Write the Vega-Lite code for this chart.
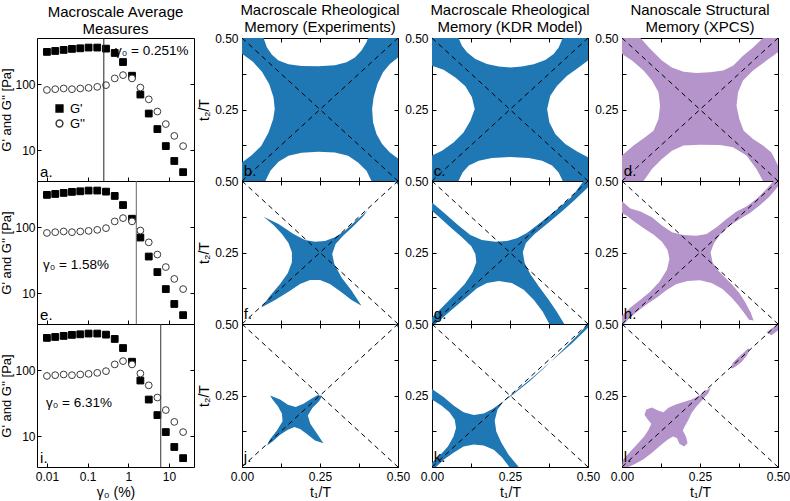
{
"$schema":"https://vega.github.io/schema/vega-lite/v6.json",
"padding":{"left":0,"top":2,"right":0,"bottom":0},
"background":"white",
"config":{
 "font":"Liberation Sans",
 "view":{"stroke":"black","strokeWidth":1},
 "axis":{"domain":false,"grid":false,"ticks":true,"tickColor":"black","tickSize":-4,"tickWidth":1,"labelFontSize":12,"labelColor":"black","labelPadding":8,"titleFontSize":14,"titleFontWeight":"normal","titleColor":"black","titlePadding":3,"labelFlush":false,"labelOverlap":false},
 "title":{"fontSize":15,"fontWeight":"normal","color":"black","lineHeight":17,"anchor":"middle","offset":-3},
 "legend":{"labelFontSize":13,"labelColor":"black"}
},
"datasets":{
 "rheo":[
  {"g":0.01,"m":308,"s":"G'"},{"g":0.016,"m":318,"s":"G'"},{"g":0.0258,"m":330,"s":"G'"},{"g":0.0413,"m":342,"s":"G'"},{"g":0.0661,"m":349,"s":"G'"},{"g":0.106,"m":358,"s":"G'"},{"g":0.173,"m":358,"s":"G'"},{"g":0.284,"m":345,"s":"G'"},{"g":0.465,"m":297,"s":"G'"},{"g":0.745,"m":216,"s":"G'"},{"g":1.24,"m":134,"s":"G'"},{"g":1.99,"m":69.5,"s":"G'"},{"g":3.2,"m":35.8,"s":"G'"},{"g":5.21,"m":20.8,"s":"G'"},{"g":8.4,"m":11.5,"s":"G'"},{"g":13.6,"m":6.84,"s":"G'"},{"g":22.4,"m":4.63,"s":"G'"},
  {"g":0.01,"m":81.6,"s":"G''"},{"g":0.016,"m":83.8,"s":"G''"},{"g":0.0258,"m":85.9,"s":"G''"},{"g":0.0413,"m":83.8,"s":"G''"},{"g":0.0661,"m":85.9,"s":"G''"},{"g":0.106,"m":87.7,"s":"G''"},{"g":0.173,"m":90.9,"s":"G''"},{"g":0.284,"m":96.5,"s":"G''"},{"g":0.465,"m":122,"s":"G''"},{"g":0.745,"m":137,"s":"G''"},{"g":1.24,"m":122,"s":"G''"},{"g":1.99,"m":88.9,"s":"G''"},{"g":3.2,"m":58.8,"s":"G''"},{"g":5.21,"m":38.4,"s":"G''"},{"g":8.4,"m":24.8,"s":"G''"},{"g":13.6,"m":16.4,"s":"G''"},{"g":22.4,"m":11.5,"s":"G''"}
 ],
 "diag":[{"d":1,"x":0,"y":0},{"d":1,"x":0.5,"y":0.5},{"d":2,"x":0,"y":0.5},{"d":2,"x":0.5,"y":0}],
 "pb":[{"x":0,"y":0.5},{"x":0.069,"y":0.5},{"x":0.08,"y":0.467},{"x":0.096,"y":0.441},{"x":0.117,"y":0.421},{"x":0.149,"y":0.408},{"x":0.191,"y":0.402},{"x":0.245,"y":0.401},{"x":0.298,"y":0.405},{"x":0.335,"y":0.415},{"x":0.362,"y":0.432},{"x":0.383,"y":0.456},{"x":0.399,"y":0.485},{"x":0.404,"y":0.5},{"x":0.5,"y":0.5},{"x":0.5,"y":0.432},{"x":0.474,"y":0.409},{"x":0.452,"y":0.38},{"x":0.434,"y":0.339},{"x":0.422,"y":0.293},{"x":0.417,"y":0.252},{"x":0.42,"y":0.205},{"x":0.431,"y":0.164},{"x":0.449,"y":0.129},{"x":0.474,"y":0.1},{"x":0.5,"y":0.079},{"x":0.5,"y":0},{"x":0.415,"y":0},{"x":0.399,"y":0.036},{"x":0.372,"y":0.065},{"x":0.34,"y":0.088},{"x":0.298,"y":0.1},{"x":0.245,"y":0.102},{"x":0.191,"y":0.099},{"x":0.149,"y":0.088},{"x":0.117,"y":0.067},{"x":0.091,"y":0.036},{"x":0.075,"y":0},{"x":0,"y":0},{"x":0,"y":0.065},{"x":0.032,"y":0.091},{"x":0.062,"y":0.123},{"x":0.085,"y":0.17},{"x":0.1,"y":0.217},{"x":0.105,"y":0.252},{"x":0.101,"y":0.293},{"x":0.087,"y":0.339},{"x":0.064,"y":0.382},{"x":0.035,"y":0.417},{"x":0,"y":0.445}],
 "pc":[{"x":0,"y":0.5},{"x":0.085,"y":0.5},{"x":0.096,"y":0.473},{"x":0.112,"y":0.45},{"x":0.139,"y":0.427},{"x":0.176,"y":0.409},{"x":0.214,"y":0.4},{"x":0.251,"y":0.397},{"x":0.288,"y":0.4},{"x":0.326,"y":0.408},{"x":0.363,"y":0.423},{"x":0.39,"y":0.444},{"x":0.406,"y":0.467},{"x":0.419,"y":0.5},{"x":0.5,"y":0.5},{"x":0.5,"y":0.421},{"x":0.47,"y":0.397},{"x":0.433,"y":0.368},{"x":0.401,"y":0.333},{"x":0.379,"y":0.298},{"x":0.369,"y":0.252},{"x":0.376,"y":0.205},{"x":0.395,"y":0.164},{"x":0.427,"y":0.129},{"x":0.465,"y":0.103},{"x":0.5,"y":0.083},{"x":0.5,"y":0},{"x":0.419,"y":0},{"x":0.406,"y":0.03},{"x":0.385,"y":0.054},{"x":0.353,"y":0.071},{"x":0.31,"y":0.08},{"x":0.251,"y":0.084},{"x":0.192,"y":0.08},{"x":0.15,"y":0.071},{"x":0.118,"y":0.054},{"x":0.098,"y":0.03},{"x":0.085,"y":0},{"x":0,"y":0},{"x":0,"y":0.089},{"x":0.032,"y":0.106},{"x":0.069,"y":0.135},{"x":0.101,"y":0.17},{"x":0.123,"y":0.211},{"x":0.137,"y":0.252},{"x":0.128,"y":0.293},{"x":0.107,"y":0.331},{"x":0.075,"y":0.362},{"x":0.037,"y":0.389},{"x":0,"y":0.403}],
 "pd":[{"x":0,"y":0.5},{"x":0.059,"y":0.5},{"x":0.09,"y":0.462},{"x":0.128,"y":0.421},{"x":0.16,"y":0.397},{"x":0.197,"y":0.382},{"x":0.239,"y":0.378},{"x":0.282,"y":0.38},{"x":0.324,"y":0.386},{"x":0.356,"y":0.403},{"x":0.388,"y":0.438},{"x":0.42,"y":0.467},{"x":0.452,"y":0.5},{"x":0.5,"y":0.5},{"x":0.5,"y":0.45},{"x":0.463,"y":0.421},{"x":0.42,"y":0.386},{"x":0.388,"y":0.351},{"x":0.372,"y":0.31},{"x":0.367,"y":0.263},{"x":0.376,"y":0.217},{"x":0.39,"y":0.176},{"x":0.42,"y":0.147},{"x":0.452,"y":0.124},{"x":0.479,"y":0.1},{"x":0.5,"y":0.054},{"x":0.5,"y":0},{"x":0.452,"y":0},{"x":0.431,"y":0.042},{"x":0.399,"y":0.089},{"x":0.356,"y":0.118},{"x":0.314,"y":0.126},{"x":0.25,"y":0.127},{"x":0.197,"y":0.124},{"x":0.16,"y":0.106},{"x":0.128,"y":0.077},{"x":0.096,"y":0.042},{"x":0.069,"y":0},{"x":0,"y":0},{"x":0,"y":0.089},{"x":0.037,"y":0.124},{"x":0.074,"y":0.153},{"x":0.101,"y":0.176},{"x":0.117,"y":0.217},{"x":0.122,"y":0.263},{"x":0.117,"y":0.31},{"x":0.096,"y":0.351},{"x":0.069,"y":0.386},{"x":0.032,"y":0.421},{"x":0,"y":0.444}],
 "pf":[{"p":1,"x":0.069,"y":0.375},{"p":1,"x":0.117,"y":0.35},{"p":1,"x":0.165,"y":0.315},{"p":1,"x":0.202,"y":0.294},{"p":1,"x":0.234,"y":0.288},{"p":1,"x":0.266,"y":0.29},{"p":1,"x":0.298,"y":0.303},{"p":1,"x":0.33,"y":0.326},{"p":1,"x":0.362,"y":0.358},{"p":1,"x":0.402,"y":0.396},{"p":1,"x":0.388,"y":0.376},{"p":1,"x":0.356,"y":0.341},{"p":1,"x":0.324,"y":0.309},{"p":1,"x":0.3,"y":0.28},{"p":1,"x":0.289,"y":0.245},{"p":1,"x":0.296,"y":0.21},{"p":1,"x":0.319,"y":0.163},{"p":1,"x":0.351,"y":0.117},{"p":1,"x":0.383,"y":0.064},{"p":1,"x":0.351,"y":0.084},{"p":1,"x":0.319,"y":0.111},{"p":1,"x":0.282,"y":0.14},{"p":1,"x":0.25,"y":0.154},{"p":1,"x":0.218,"y":0.154},{"p":1,"x":0.186,"y":0.14},{"p":1,"x":0.149,"y":0.113},{"p":1,"x":0.106,"y":0.084},{"p":1,"x":0.062,"y":0.058},{"p":1,"x":0.09,"y":0.099},{"p":1,"x":0.122,"y":0.14},{"p":1,"x":0.147,"y":0.178},{"p":1,"x":0.16,"y":0.216},{"p":1,"x":0.16,"y":0.251},{"p":1,"x":0.149,"y":0.283},{"p":1,"x":0.128,"y":0.315},{"p":1,"x":0.101,"y":0.346},{"p":2,"x":0.488,"y":0.5},{"p":2,"x":0.5,"y":0.5},{"p":2,"x":0.5,"y":0.487}],
 "pg":[{"x":0,"y":0.425},{"x":0.043,"y":0.385},{"x":0.085,"y":0.344},{"x":0.123,"y":0.311},{"x":0.16,"y":0.294},{"x":0.203,"y":0.288},{"x":0.24,"y":0.29},{"x":0.272,"y":0.3},{"x":0.304,"y":0.318},{"x":0.342,"y":0.35},{"x":0.395,"y":0.396},{"x":0.449,"y":0.446},{"x":0.486,"y":0.5},{"x":0.5,"y":0.5},{"x":0.5,"y":0.478},{"x":0.459,"y":0.435},{"x":0.417,"y":0.394},{"x":0.374,"y":0.355},{"x":0.329,"y":0.315},{"x":0.301,"y":0.283},{"x":0.291,"y":0.251},{"x":0.297,"y":0.213},{"x":0.315,"y":0.175},{"x":0.342,"y":0.132},{"x":0.374,"y":0.085},{"x":0.401,"y":0.041},{"x":0.424,"y":0},{"x":0.376,"y":0},{"x":0.355,"y":0.043},{"x":0.326,"y":0.085},{"x":0.294,"y":0.12},{"x":0.256,"y":0.143},{"x":0.214,"y":0.15},{"x":0.176,"y":0.143},{"x":0.144,"y":0.125},{"x":0.107,"y":0.09},{"x":0.069,"y":0.055},{"x":0.032,"y":0.02},{"x":0.011,"y":0},{"x":0,"y":0},{"x":0,"y":0.023},{"x":0.032,"y":0.058},{"x":0.069,"y":0.099},{"x":0.105,"y":0.14},{"x":0.13,"y":0.181},{"x":0.142,"y":0.216},{"x":0.139,"y":0.245},{"x":0.126,"y":0.272},{"x":0.096,"y":0.303},{"x":0.059,"y":0.338},{"x":0.021,"y":0.376},{"x":0,"y":0.396}],
 "ph":[{"x":0,"y":0.429},{"x":0.027,"y":0.404},{"x":0.059,"y":0.393},{"x":0.096,"y":0.373},{"x":0.128,"y":0.344},{"x":0.16,"y":0.321},{"x":0.197,"y":0.311},{"x":0.239,"y":0.309},{"x":0.271,"y":0.315},{"x":0.303,"y":0.338},{"x":0.335,"y":0.367},{"x":0.367,"y":0.393},{"x":0.399,"y":0.411},{"x":0.431,"y":0.437},{"x":0.463,"y":0.472},{"x":0.486,"y":0.5},{"x":0.5,"y":0.5},{"x":0.5,"y":0.481},{"x":0.473,"y":0.446},{"x":0.441,"y":0.414},{"x":0.41,"y":0.388},{"x":0.378,"y":0.367},{"x":0.346,"y":0.344},{"x":0.316,"y":0.315},{"x":0.295,"y":0.283},{"x":0.284,"y":0.251},{"x":0.29,"y":0.216},{"x":0.309,"y":0.186},{"x":0.33,"y":0.163},{"x":0.354,"y":0.136},{"x":0.376,"y":0.108},{"x":0.394,"y":0.078},{"x":0.412,"y":0.041},{"x":0.422,"y":0.012},{"x":0.407,"y":0.015},{"x":0.39,"y":0.041},{"x":0.372,"y":0.066},{"x":0.351,"y":0.093},{"x":0.322,"y":0.122},{"x":0.287,"y":0.143},{"x":0.25,"y":0.153},{"x":0.21,"y":0.15},{"x":0.173,"y":0.139},{"x":0.141,"y":0.117},{"x":0.112,"y":0.093},{"x":0.082,"y":0.071},{"x":0.053,"y":0.047},{"x":0.024,"y":0.021},{"x":0.007,"y":0},{"x":0,"y":0},{"x":0,"y":0.029},{"x":0.027,"y":0.058},{"x":0.059,"y":0.085},{"x":0.09,"y":0.113},{"x":0.12,"y":0.148},{"x":0.144,"y":0.19},{"x":0.152,"y":0.227},{"x":0.146,"y":0.259},{"x":0.128,"y":0.288},{"x":0.103,"y":0.311},{"x":0.071,"y":0.334},{"x":0.039,"y":0.358},{"x":0.014,"y":0.379},{"x":0,"y":0.388}],
 "pj":[{"p":1,"x":0.09,"y":0.25},{"p":1,"x":0.122,"y":0.236},{"p":1,"x":0.147,"y":0.218},{"p":1,"x":0.172,"y":0.21},{"p":1,"x":0.197,"y":0.221},{"p":1,"x":0.221,"y":0.238},{"p":1,"x":0.243,"y":0.252},{"p":1,"x":0.257,"y":0.248},{"p":1,"x":0.247,"y":0.23},{"p":1,"x":0.226,"y":0.207},{"p":1,"x":0.211,"y":0.18},{"p":1,"x":0.219,"y":0.151},{"p":1,"x":0.239,"y":0.119},{"p":1,"x":0.261,"y":0.083},{"p":1,"x":0.234,"y":0.093},{"p":1,"x":0.207,"y":0.116},{"p":1,"x":0.186,"y":0.133},{"p":1,"x":0.168,"y":0.14},{"p":1,"x":0.147,"y":0.13},{"p":1,"x":0.122,"y":0.113},{"p":1,"x":0.098,"y":0.089},{"p":1,"x":0.08,"y":0.075},{"p":1,"x":0.09,"y":0.097},{"p":1,"x":0.112,"y":0.128},{"p":1,"x":0.13,"y":0.16},{"p":1,"x":0.128,"y":0.187},{"p":1,"x":0.115,"y":0.212},{"p":1,"x":0.098,"y":0.236},{"p":2,"x":0.49,"y":0.5},{"p":2,"x":0.5,"y":0.5},{"p":2,"x":0.5,"y":0.488}],
 "pk":[{"x":0,"y":0.273},{"x":0.037,"y":0.245},{"x":0.069,"y":0.215},{"x":0.101,"y":0.191},{"x":0.134,"y":0.182},{"x":0.166,"y":0.187},{"x":0.194,"y":0.203},{"x":0.226,"y":0.227},{"x":0.262,"y":0.255},{"x":0.31,"y":0.297},{"x":0.363,"y":0.35},{"x":0.427,"y":0.418},{"x":0.481,"y":0.477},{"x":0.497,"y":0.5},{"x":0.5,"y":0.5},{"x":0.5,"y":0.487},{"x":0.449,"y":0.433},{"x":0.385,"y":0.372},{"x":0.321,"y":0.312},{"x":0.269,"y":0.266},{"x":0.233,"y":0.234},{"x":0.21,"y":0.201},{"x":0.201,"y":0.163},{"x":0.206,"y":0.124},{"x":0.222,"y":0.086},{"x":0.246,"y":0.042},{"x":0.278,"y":0},{"x":0.248,"y":0},{"x":0.224,"y":0.034},{"x":0.198,"y":0.06},{"x":0.166,"y":0.075},{"x":0.134,"y":0.079},{"x":0.101,"y":0.072},{"x":0.069,"y":0.05},{"x":0.037,"y":0.025},{"x":0.013,"y":0},{"x":0,"y":0},{"x":0,"y":0.015},{"x":0.024,"y":0.039},{"x":0.051,"y":0.072},{"x":0.069,"y":0.107},{"x":0.077,"y":0.136},{"x":0.073,"y":0.165},{"x":0.056,"y":0.191},{"x":0.03,"y":0.215},{"x":0,"y":0.236}],
 "pl":[{"p":1,"x":0,"y":0},{"p":1,"x":0.003,"y":0.025},{"p":1,"x":0.027,"y":0.054},{"p":1,"x":0.05,"y":0.081},{"p":1,"x":0.071,"y":0.107},{"p":1,"x":0.085,"y":0.13},{"p":1,"x":0.094,"y":0.151},{"p":1,"x":0.083,"y":0.165},{"p":1,"x":0.072,"y":0.183},{"p":1,"x":0.078,"y":0.201},{"p":1,"x":0.096,"y":0.208},{"p":1,"x":0.117,"y":0.197},{"p":1,"x":0.133,"y":0.191},{"p":1,"x":0.149,"y":0.207},{"p":1,"x":0.17,"y":0.218},{"p":1,"x":0.197,"y":0.227},{"p":1,"x":0.223,"y":0.236},{"p":1,"x":0.245,"y":0.248},{"p":1,"x":0.266,"y":0.265},{"p":1,"x":0.284,"y":0.277},{"p":1,"x":0.277,"y":0.259},{"p":1,"x":0.259,"y":0.236},{"p":1,"x":0.239,"y":0.212},{"p":1,"x":0.223,"y":0.189},{"p":1,"x":0.213,"y":0.165},{"p":1,"x":0.202,"y":0.144},{"p":1,"x":0.195,"y":0.128},{"p":1,"x":0.205,"y":0.107},{"p":1,"x":0.21,"y":0.083},{"p":1,"x":0.199,"y":0.072},{"p":1,"x":0.184,"y":0.081},{"p":1,"x":0.176,"y":0.101},{"p":1,"x":0.163,"y":0.107},{"p":1,"x":0.146,"y":0.095},{"p":1,"x":0.122,"y":0.074},{"p":1,"x":0.096,"y":0.05},{"p":1,"x":0.069,"y":0.027},{"p":1,"x":0.043,"y":0.011},{"p":1,"x":0.021,"y":0},
  {"p":2,"x":0.348,"y":0.347},{"p":2,"x":0.356,"y":0.365},{"p":2,"x":0.372,"y":0.383},{"p":2,"x":0.39,"y":0.4},{"p":2,"x":0.404,"y":0.414},{"p":2,"x":0.41,"y":0.41},{"p":2,"x":0.399,"y":0.388},{"p":2,"x":0.383,"y":0.367},{"p":2,"x":0.367,"y":0.353},{"p":2,"x":0.354,"y":0.344},
  {"p":3,"x":0.463,"y":0.471},{"p":3,"x":0.484,"y":0.488},{"p":3,"x":0.5,"y":0.5},{"p":3,"x":0.5,"y":0.477},{"p":3,"x":0.479,"y":0.461}]
},
"spacing":-7,
"resolve":{"scale":{"shape":"independent","fill":"independent","stroke":"independent"}},
"hconcat":[
 {"vconcat":[
  {"width":157,"height":143,"title":{"text":["Macroscale Average","Measures"],"offset":1},
   "layer":[
    {"data":{"name":"rheo"},"mark":{"type":"point","size":46,"strokeWidth":1,"opacity":1},
     "encoding":{
      "x":{"field":"g","type":"quantitative","scale":{"type":"log","domain":[0.0057,41.5],"nice":false},"axis":{"values":[0.01,0.1,1,10],"labels":false,"title":null}},
      "y":{"field":"m","type":"quantitative","scale":{"type":"log","domain":[3.4,500],"nice":false},"axis":{"values":[10,100],"format":"~g","title":"G' and G'' [Pa]","titleFontSize":13,"titlePadding":1,"labelPadding":6}},
      "shape":{"field":"s","type":"nominal","scale":{"domain":["G'","G''"],"range":["square","circle"]},"legend":{"orient":"none","legendX":16,"legendY":64,"title":null,"symbolSize":46,"labelFontSize":13,"rowPadding":1}},
      "fill":{"field":"s","type":"nominal","scale":{"domain":["G'","G''"],"range":["black","white"]},"legend":{"orient":"none","legendX":16,"legendY":64,"title":null,"symbolSize":46,"labelFontSize":13,"rowPadding":1}},
      "stroke":{"field":"s","type":"nominal","scale":{"domain":["G'","G''"],"range":["black","#3a3a3a"]},"legend":{"orient":"none","legendX":16,"legendY":64,"title":null,"symbolSize":46,"labelFontSize":13,"rowPadding":1}}}},
    {"data":{"values":[{"g":0.251}]},"mark":{"type":"rule","color":"#222","strokeWidth":1},
     "encoding":{"x":{"field":"g","type":"quantitative","scale":{"type":"log","domain":[0.0057,41.5],"nice":false},"axis":null}}},
    {"data":{"values":[{"g":0.47,"m":322,"t":"γ₀ = 0.251%"}]},"mark":{"type":"text","align":"left","baseline":"middle","fontSize":13.5},
     "encoding":{"x":{"field":"g","type":"quantitative","scale":{"type":"log","domain":[0.0057,41.5],"nice":false},"axis":null},"y":{"field":"m","type":"quantitative","scale":{"type":"log","domain":[3.4,500],"nice":false},"axis":null},"text":{"field":"t"}}},
    {"data":{"values":[{"g":0.0068,"m":3.95,"t":"a."}]},"mark":{"type":"text","align":"left","baseline":"alphabetic","fontSize":15},
     "encoding":{"x":{"field":"g","type":"quantitative","scale":{"type":"log","domain":[0.0057,41.5],"nice":false},"axis":null},"y":{"field":"m","type":"quantitative","scale":{"type":"log","domain":[3.4,500],"nice":false},"axis":{"orient":"right","values":[10,100],"labels":false,"title":"\u00a0","titleFontSize":6,"titlePadding":3}},"text":{"field":"t"}}}
   ],"resolve":{"axis":{"x":"independent","y":"independent"}}},
  {"width":157,"height":143,
   "layer":[
    {"data":{"name":"rheo"},"mark":{"type":"point","size":46,"strokeWidth":1,"opacity":1},
     "encoding":{
      "x":{"field":"g","type":"quantitative","scale":{"type":"log","domain":[0.0057,41.5],"nice":false},"axis":{"values":[0.01,0.1,1,10],"labels":false,"title":null}},
      "y":{"field":"m","type":"quantitative","scale":{"type":"log","domain":[3.4,500],"nice":false},"axis":{"values":[10,100],"format":"~g","title":"G' and G'' [Pa]","titleFontSize":13,"titlePadding":1,"labelPadding":6}},
      "shape":{"field":"s","type":"nominal","scale":{"domain":["G'","G''"],"range":["square","circle"]},"legend":null},
      "fill":{"field":"s","type":"nominal","scale":{"domain":["G'","G''"],"range":["black","white"]},"legend":null},
      "stroke":{"field":"s","type":"nominal","scale":{"domain":["G'","G''"],"range":["black","#3a3a3a"]},"legend":null}}},
    {"data":{"values":[{"g":1.58}]},"mark":{"type":"rule","color":"#666","strokeWidth":1},
     "encoding":{"x":{"field":"g","type":"quantitative","scale":{"type":"log","domain":[0.0057,41.5],"nice":false},"axis":null}}},
    {"data":{"values":[{"g":0.008,"m":27,"t":"γ₀ = 1.58%"}]},"mark":{"type":"text","align":"left","baseline":"middle","fontSize":13.5},
     "encoding":{"x":{"field":"g","type":"quantitative","scale":{"type":"log","domain":[0.0057,41.5],"nice":false},"axis":null},"y":{"field":"m","type":"quantitative","scale":{"type":"log","domain":[3.4,500],"nice":false},"axis":null},"text":{"field":"t"}}},
    {"data":{"values":[{"g":0.0068,"m":3.95,"t":"e."}]},"mark":{"type":"text","align":"left","baseline":"alphabetic","fontSize":15},
     "encoding":{"x":{"field":"g","type":"quantitative","scale":{"type":"log","domain":[0.0057,41.5],"nice":false},"axis":null},"y":{"field":"m","type":"quantitative","scale":{"type":"log","domain":[3.4,500],"nice":false},"axis":{"orient":"right","values":[10,100],"labels":false,"title":"\u00a0","titleFontSize":6,"titlePadding":3}},"text":{"field":"t"}}}
   ],"resolve":{"axis":{"x":"independent","y":"independent"}}},
  {"width":157,"height":143,
   "layer":[
    {"data":{"name":"rheo"},"mark":{"type":"point","size":46,"strokeWidth":1,"opacity":1},
     "encoding":{
      "x":{"field":"g","type":"quantitative","scale":{"type":"log","domain":[0.0057,41.5],"nice":false},"axis":{"values":[0.01,0.1,1,10],"format":"~g","title":"γ₀ (%)"}},
      "y":{"field":"m","type":"quantitative","scale":{"type":"log","domain":[3.4,500],"nice":false},"axis":{"values":[10,100],"format":"~g","title":"G' and G'' [Pa]","titleFontSize":13,"titlePadding":1,"labelPadding":6}},
      "shape":{"field":"s","type":"nominal","scale":{"domain":["G'","G''"],"range":["square","circle"]},"legend":null},
      "fill":{"field":"s","type":"nominal","scale":{"domain":["G'","G''"],"range":["black","white"]},"legend":null},
      "stroke":{"field":"s","type":"nominal","scale":{"domain":["G'","G''"],"range":["black","#3a3a3a"]},"legend":null}}},
    {"data":{"values":[{"g":6.31}]},"mark":{"type":"rule","color":"#333","strokeWidth":1},
     "encoding":{"x":{"field":"g","type":"quantitative","scale":{"type":"log","domain":[0.0057,41.5],"nice":false},"axis":null}}},
    {"data":{"values":[{"g":0.0095,"m":32,"t":"γ₀ = 6.31%"}]},"mark":{"type":"text","align":"left","baseline":"middle","fontSize":13.5},
     "encoding":{"x":{"field":"g","type":"quantitative","scale":{"type":"log","domain":[0.0057,41.5],"nice":false},"axis":null},"y":{"field":"m","type":"quantitative","scale":{"type":"log","domain":[3.4,500],"nice":false},"axis":null},"text":{"field":"t"}}},
    {"data":{"values":[{"g":0.0068,"m":3.95,"t":"i."}]},"mark":{"type":"text","align":"left","baseline":"alphabetic","fontSize":15},
     "encoding":{"x":{"field":"g","type":"quantitative","scale":{"type":"log","domain":[0.0057,41.5],"nice":false},"axis":null},"y":{"field":"m","type":"quantitative","scale":{"type":"log","domain":[3.4,500],"nice":false},"axis":{"orient":"right","values":[10,100],"labels":false,"title":"\u00a0","titleFontSize":6,"titlePadding":3}},"text":{"field":"t"}}}
   ],"resolve":{"axis":{"x":"independent","y":"independent"}}}
 ],"spacing":0,"bounds":"flush","resolve":{"scale":{"shape":"independent","fill":"independent","stroke":"independent"}}},
 {"vconcat":[
  {"width":156,"height":143,"title":{"text":["Macroscale Rheological","Memory (Experiments)"]},
   "layer":[
    {"data":{"name":"pb"},"mark":{"type":"line","fill":"#1f77b4","strokeWidth":0,"clip":true},
     "encoding":{"x":{"field":"x","type":"quantitative","scale":{"domain":[0,0.5],"nice":false,"zero":false},"axis":{"values":[0,0.125,0.25,0.375,0.5],"labels":false,"title":null}},
      "y":{"field":"y","type":"quantitative","scale":{"domain":[0,0.5],"nice":false,"zero":false},"axis":{"values":[0,0.125,0.25,0.375,0.5],"labelExpr":"datum.value==0.25||datum.value==0.5?format(datum.value,'.2f'):''","title":"t₂/T"}},
      "detail":{"field":"p"},"order":{"value":null}}},
    {"data":{"name":"diag"},"mark":{"type":"line","color":"black","strokeDash":[5,4],"strokeWidth":1},
     "encoding":{"x":{"field":"x","type":"quantitative","scale":{"domain":[0,0.5],"nice":false,"zero":false},"axis":{"orient":"top","values":[0,0.125,0.25,0.375,0.5],"labels":false,"title":null}},
      "y":{"field":"y","type":"quantitative","scale":{"domain":[0,0.5],"nice":false,"zero":false},"axis":{"orient":"right","values":[0,0.125,0.25,0.375,0.5],"labels":false,"title":null}},
      "detail":{"field":"d"}}},
    {"data":{"values":[{"x":0.006,"y":0.017,"t":"b."}]},"mark":{"type":"text","align":"left","baseline":"alphabetic","fontSize":15},
     "encoding":{"x":{"field":"x","type":"quantitative","scale":{"domain":[0,0.5],"nice":false,"zero":false},"axis":null},"y":{"field":"y","type":"quantitative","scale":{"domain":[0,0.5],"nice":false,"zero":false},"axis":null},"text":{"field":"t"}}}
   ],"resolve":{"axis":{"x":"independent","y":"independent"}}},
  {"width":156,"height":143,
   "layer":[
    {"data":{"name":"pf"},"mark":{"type":"line","fill":"#1f77b4","strokeWidth":0,"clip":true},
     "encoding":{"x":{"field":"x","type":"quantitative","scale":{"domain":[0,0.5],"nice":false,"zero":false},"axis":{"values":[0,0.125,0.25,0.375,0.5],"labels":false,"title":null}},
      "y":{"field":"y","type":"quantitative","scale":{"domain":[0,0.5],"nice":false,"zero":false},"axis":{"values":[0,0.125,0.25,0.375,0.5],"labelExpr":"datum.value==0.25||datum.value==0.5?format(datum.value,'.2f'):''","title":"t₂/T"}},
      "detail":{"field":"p"},"order":{"value":null}}},
    {"data":{"name":"diag"},"mark":{"type":"line","color":"black","strokeDash":[5,4],"strokeWidth":1},
     "encoding":{"x":{"field":"x","type":"quantitative","scale":{"domain":[0,0.5],"nice":false,"zero":false},"axis":{"orient":"top","values":[0,0.125,0.25,0.375,0.5],"labels":false,"title":null}},
      "y":{"field":"y","type":"quantitative","scale":{"domain":[0,0.5],"nice":false,"zero":false},"axis":{"orient":"right","values":[0,0.125,0.25,0.375,0.5],"labels":false,"title":null}},
      "detail":{"field":"d"}}},
    {"data":{"values":[{"x":0.006,"y":0.017,"t":"f."}]},"mark":{"type":"text","align":"left","baseline":"alphabetic","fontSize":15},
     "encoding":{"x":{"field":"x","type":"quantitative","scale":{"domain":[0,0.5],"nice":false,"zero":false},"axis":null},"y":{"field":"y","type":"quantitative","scale":{"domain":[0,0.5],"nice":false,"zero":false},"axis":null},"text":{"field":"t"}}}
   ],"resolve":{"axis":{"x":"independent","y":"independent"}}},
  {"width":156,"height":143,
   "layer":[
    {"data":{"name":"pj"},"mark":{"type":"line","fill":"#1f77b4","strokeWidth":0,"clip":true},
     "encoding":{"x":{"field":"x","type":"quantitative","scale":{"domain":[0,0.5],"nice":false,"zero":false},"axis":{"values":[0,0.125,0.25,0.375,0.5],"labelExpr":"datum.value==0.125||datum.value==0.375?'':format(datum.value,'.2f')","title":"t₁/T"}},
      "y":{"field":"y","type":"quantitative","scale":{"domain":[0,0.5],"nice":false,"zero":false},"axis":{"values":[0,0.125,0.25,0.375,0.5],"labelExpr":"datum.value==0.25||datum.value==0.5?format(datum.value,'.2f'):''","title":"t₂/T"}},
      "detail":{"field":"p"},"order":{"value":null}}},
    {"data":{"name":"diag"},"mark":{"type":"line","color":"black","strokeDash":[5,4],"strokeWidth":1},
     "encoding":{"x":{"field":"x","type":"quantitative","scale":{"domain":[0,0.5],"nice":false,"zero":false},"axis":{"orient":"top","values":[0,0.125,0.25,0.375,0.5],"labels":false,"title":null}},
      "y":{"field":"y","type":"quantitative","scale":{"domain":[0,0.5],"nice":false,"zero":false},"axis":{"orient":"right","values":[0,0.125,0.25,0.375,0.5],"labels":false,"title":null}},
      "detail":{"field":"d"}}},
    {"data":{"values":[{"x":0.006,"y":0.017,"t":"j."}]},"mark":{"type":"text","align":"left","baseline":"alphabetic","fontSize":15},
     "encoding":{"x":{"field":"x","type":"quantitative","scale":{"domain":[0,0.5],"nice":false,"zero":false},"axis":null},"y":{"field":"y","type":"quantitative","scale":{"domain":[0,0.5],"nice":false,"zero":false},"axis":null},"text":{"field":"t"}}}
   ],"resolve":{"axis":{"x":"independent","y":"independent"}}}
 ],"spacing":0,"bounds":"flush"},
 {"vconcat":[
  {"width":156,"height":143,"title":{"text":["Macroscale Rheological","Memory (KDR Model)"]},
   "layer":[
    {"data":{"name":"pc"},"mark":{"type":"line","fill":"#1f77b4","strokeWidth":0,"clip":true},
     "encoding":{"x":{"field":"x","type":"quantitative","scale":{"domain":[0,0.5],"nice":false,"zero":false},"axis":{"values":[0,0.125,0.25,0.375,0.5],"labels":false,"title":null}},
      "y":{"field":"y","type":"quantitative","scale":{"domain":[0,0.5],"nice":false,"zero":false},"axis":{"values":[0,0.125,0.25,0.375,0.5],"labelExpr":"datum.value==0.25||datum.value==0.5?format(datum.value,'.2f'):''","title":null}},
      "detail":{"field":"p"},"order":{"value":null}}},
    {"data":{"name":"diag"},"mark":{"type":"line","color":"black","strokeDash":[5,4],"strokeWidth":1},
     "encoding":{"x":{"field":"x","type":"quantitative","scale":{"domain":[0,0.5],"nice":false,"zero":false},"axis":{"orient":"top","values":[0,0.125,0.25,0.375,0.5],"labels":false,"title":null}},
      "y":{"field":"y","type":"quantitative","scale":{"domain":[0,0.5],"nice":false,"zero":false},"axis":{"orient":"right","values":[0,0.125,0.25,0.375,0.5],"labels":false,"title":null}},
      "detail":{"field":"d"}}},
    {"data":{"values":[{"x":0.006,"y":0.017,"t":"c."}]},"mark":{"type":"text","align":"left","baseline":"alphabetic","fontSize":15},
     "encoding":{"x":{"field":"x","type":"quantitative","scale":{"domain":[0,0.5],"nice":false,"zero":false},"axis":null},"y":{"field":"y","type":"quantitative","scale":{"domain":[0,0.5],"nice":false,"zero":false},"axis":null},"text":{"field":"t"}}}
   ],"resolve":{"axis":{"x":"independent","y":"independent"}}},
  {"width":156,"height":143,
   "layer":[
    {"data":{"name":"pg"},"mark":{"type":"line","fill":"#1f77b4","strokeWidth":0,"clip":true},
     "encoding":{"x":{"field":"x","type":"quantitative","scale":{"domain":[0,0.5],"nice":false,"zero":false},"axis":{"values":[0,0.125,0.25,0.375,0.5],"labels":false,"title":null}},
      "y":{"field":"y","type":"quantitative","scale":{"domain":[0,0.5],"nice":false,"zero":false},"axis":{"values":[0,0.125,0.25,0.375,0.5],"labelExpr":"datum.value==0.25||datum.value==0.5?format(datum.value,'.2f'):''","title":null}},
      "detail":{"field":"p"},"order":{"value":null}}},
    {"data":{"name":"diag"},"mark":{"type":"line","color":"black","strokeDash":[5,4],"strokeWidth":1},
     "encoding":{"x":{"field":"x","type":"quantitative","scale":{"domain":[0,0.5],"nice":false,"zero":false},"axis":{"orient":"top","values":[0,0.125,0.25,0.375,0.5],"labels":false,"title":null}},
      "y":{"field":"y","type":"quantitative","scale":{"domain":[0,0.5],"nice":false,"zero":false},"axis":{"orient":"right","values":[0,0.125,0.25,0.375,0.5],"labels":false,"title":null}},
      "detail":{"field":"d"}}},
    {"data":{"values":[{"x":0.006,"y":0.017,"t":"g."}]},"mark":{"type":"text","align":"left","baseline":"alphabetic","fontSize":15},
     "encoding":{"x":{"field":"x","type":"quantitative","scale":{"domain":[0,0.5],"nice":false,"zero":false},"axis":null},"y":{"field":"y","type":"quantitative","scale":{"domain":[0,0.5],"nice":false,"zero":false},"axis":null},"text":{"field":"t"}}}
   ],"resolve":{"axis":{"x":"independent","y":"independent"}}},
  {"width":156,"height":143,
   "layer":[
    {"data":{"name":"pk"},"mark":{"type":"line","fill":"#1f77b4","strokeWidth":0,"clip":true},
     "encoding":{"x":{"field":"x","type":"quantitative","scale":{"domain":[0,0.5],"nice":false,"zero":false},"axis":{"values":[0,0.125,0.25,0.375,0.5],"labelExpr":"datum.value==0.125||datum.value==0.375?'':format(datum.value,'.2f')","title":"t₁/T"}},
      "y":{"field":"y","type":"quantitative","scale":{"domain":[0,0.5],"nice":false,"zero":false},"axis":{"values":[0,0.125,0.25,0.375,0.5],"labelExpr":"datum.value==0.25||datum.value==0.5?format(datum.value,'.2f'):''","title":null}},
      "detail":{"field":"p"},"order":{"value":null}}},
    {"data":{"name":"diag"},"mark":{"type":"line","color":"black","strokeDash":[5,4],"strokeWidth":1},
     "encoding":{"x":{"field":"x","type":"quantitative","scale":{"domain":[0,0.5],"nice":false,"zero":false},"axis":{"orient":"top","values":[0,0.125,0.25,0.375,0.5],"labels":false,"title":null}},
      "y":{"field":"y","type":"quantitative","scale":{"domain":[0,0.5],"nice":false,"zero":false},"axis":{"orient":"right","values":[0,0.125,0.25,0.375,0.5],"labels":false,"title":null}},
      "detail":{"field":"d"}}},
    {"data":{"values":[{"x":0.006,"y":0.017,"t":"k."}]},"mark":{"type":"text","align":"left","baseline":"alphabetic","fontSize":15},
     "encoding":{"x":{"field":"x","type":"quantitative","scale":{"domain":[0,0.5],"nice":false,"zero":false},"axis":null},"y":{"field":"y","type":"quantitative","scale":{"domain":[0,0.5],"nice":false,"zero":false},"axis":null},"text":{"field":"t"}}}
   ],"resolve":{"axis":{"x":"independent","y":"independent"}}}
 ],"spacing":0,"bounds":"flush"},
 {"vconcat":[
  {"width":156,"height":143,"title":{"text":["Nanoscale Structural","Memory (XPCS)"]},
   "layer":[
    {"data":{"name":"pd"},"mark":{"type":"line","fill":"#b594cc","strokeWidth":0,"clip":true},
     "encoding":{"x":{"field":"x","type":"quantitative","scale":{"domain":[0,0.5],"nice":false,"zero":false},"axis":{"values":[0,0.125,0.25,0.375,0.5],"labels":false,"title":null}},
      "y":{"field":"y","type":"quantitative","scale":{"domain":[0,0.5],"nice":false,"zero":false},"axis":{"values":[0,0.125,0.25,0.375,0.5],"labelExpr":"datum.value==0.25||datum.value==0.5?format(datum.value,'.2f'):''","title":null}},
      "detail":{"field":"p"},"order":{"value":null}}},
    {"data":{"name":"diag"},"mark":{"type":"line","color":"black","strokeDash":[5,4],"strokeWidth":1},
     "encoding":{"x":{"field":"x","type":"quantitative","scale":{"domain":[0,0.5],"nice":false,"zero":false},"axis":{"orient":"top","values":[0,0.125,0.25,0.375,0.5],"labels":false,"title":null}},
      "y":{"field":"y","type":"quantitative","scale":{"domain":[0,0.5],"nice":false,"zero":false},"axis":{"orient":"right","values":[0,0.125,0.25,0.375,0.5],"labels":false,"title":null}},
      "detail":{"field":"d"}}},
    {"data":{"values":[{"x":0.006,"y":0.017,"t":"d."}]},"mark":{"type":"text","align":"left","baseline":"alphabetic","fontSize":15},
     "encoding":{"x":{"field":"x","type":"quantitative","scale":{"domain":[0,0.5],"nice":false,"zero":false},"axis":null},"y":{"field":"y","type":"quantitative","scale":{"domain":[0,0.5],"nice":false,"zero":false},"axis":null},"text":{"field":"t"}}}
   ],"resolve":{"axis":{"x":"independent","y":"independent"}}},
  {"width":156,"height":143,
   "layer":[
    {"data":{"name":"ph"},"mark":{"type":"line","fill":"#b594cc","strokeWidth":0,"clip":true},
     "encoding":{"x":{"field":"x","type":"quantitative","scale":{"domain":[0,0.5],"nice":false,"zero":false},"axis":{"values":[0,0.125,0.25,0.375,0.5],"labels":false,"title":null}},
      "y":{"field":"y","type":"quantitative","scale":{"domain":[0,0.5],"nice":false,"zero":false},"axis":{"values":[0,0.125,0.25,0.375,0.5],"labelExpr":"datum.value==0.25||datum.value==0.5?format(datum.value,'.2f'):''","title":null}},
      "detail":{"field":"p"},"order":{"value":null}}},
    {"data":{"name":"diag"},"mark":{"type":"line","color":"black","strokeDash":[5,4],"strokeWidth":1},
     "encoding":{"x":{"field":"x","type":"quantitative","scale":{"domain":[0,0.5],"nice":false,"zero":false},"axis":{"orient":"top","values":[0,0.125,0.25,0.375,0.5],"labels":false,"title":null}},
      "y":{"field":"y","type":"quantitative","scale":{"domain":[0,0.5],"nice":false,"zero":false},"axis":{"orient":"right","values":[0,0.125,0.25,0.375,0.5],"labels":false,"title":null}},
      "detail":{"field":"d"}}},
    {"data":{"values":[{"x":0.006,"y":0.017,"t":"h."}]},"mark":{"type":"text","align":"left","baseline":"alphabetic","fontSize":15},
     "encoding":{"x":{"field":"x","type":"quantitative","scale":{"domain":[0,0.5],"nice":false,"zero":false},"axis":null},"y":{"field":"y","type":"quantitative","scale":{"domain":[0,0.5],"nice":false,"zero":false},"axis":null},"text":{"field":"t"}}}
   ],"resolve":{"axis":{"x":"independent","y":"independent"}}},
  {"width":156,"height":143,
   "layer":[
    {"data":{"name":"pl"},"mark":{"type":"line","fill":"#b594cc","strokeWidth":0,"clip":true},
     "encoding":{"x":{"field":"x","type":"quantitative","scale":{"domain":[0,0.5],"nice":false,"zero":false},"axis":{"values":[0,0.125,0.25,0.375,0.5],"labelExpr":"datum.value==0.125||datum.value==0.375?'':format(datum.value,'.2f')","title":"t₁/T"}},
      "y":{"field":"y","type":"quantitative","scale":{"domain":[0,0.5],"nice":false,"zero":false},"axis":{"values":[0,0.125,0.25,0.375,0.5],"labelExpr":"datum.value==0.25||datum.value==0.5?format(datum.value,'.2f'):''","title":null}},
      "detail":{"field":"p"},"order":{"value":null}}},
    {"data":{"name":"diag"},"mark":{"type":"line","color":"black","strokeDash":[5,4],"strokeWidth":1},
     "encoding":{"x":{"field":"x","type":"quantitative","scale":{"domain":[0,0.5],"nice":false,"zero":false},"axis":{"orient":"top","values":[0,0.125,0.25,0.375,0.5],"labels":false,"title":null}},
      "y":{"field":"y","type":"quantitative","scale":{"domain":[0,0.5],"nice":false,"zero":false},"axis":{"orient":"right","values":[0,0.125,0.25,0.375,0.5],"labels":false,"title":null}},
      "detail":{"field":"d"}}},
    {"data":{"values":[{"x":0.006,"y":0.017,"t":"l."}]},"mark":{"type":"text","align":"left","baseline":"alphabetic","fontSize":15},
     "encoding":{"x":{"field":"x","type":"quantitative","scale":{"domain":[0,0.5],"nice":false,"zero":false},"axis":null},"y":{"field":"y","type":"quantitative","scale":{"domain":[0,0.5],"nice":false,"zero":false},"axis":null},"text":{"field":"t"}}}
   ],"resolve":{"axis":{"x":"independent","y":"independent"}}}
 ],"spacing":0,"bounds":"flush"}
]
}
